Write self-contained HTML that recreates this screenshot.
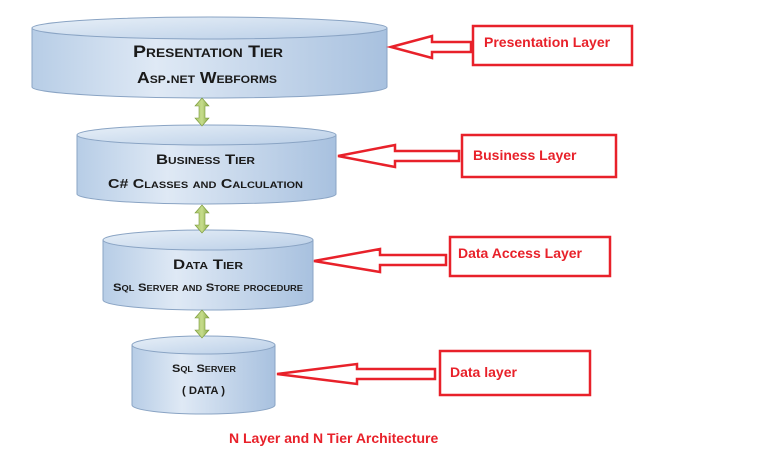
<!DOCTYPE html>
<html><head><meta charset="utf-8"><style>
html,body{margin:0;padding:0;background:#fff;width:768px;height:458px;overflow:hidden}
svg text{font-family:"Liberation Sans",sans-serif}
.t{font-weight:bold;fill:#1a1a1a;font-variant:small-caps}
.r{font-weight:bold;fill:#e8212a;font-size:14px}
</style></head><body>
<svg width="768" height="458" viewBox="0 0 768 458" xmlns="http://www.w3.org/2000/svg">
<defs>
<linearGradient id="g" x1="0" y1="0" x2="1" y2="0">
<stop offset="0" stop-color="#b7cde6"/><stop offset="0.35" stop-color="#dfe9f5"/><stop offset="1" stop-color="#a8c1df"/>
</linearGradient>
<linearGradient id="gt" x1="0" y1="0" x2="1" y2="1">
<stop offset="0" stop-color="#e8f0f8"/><stop offset="1" stop-color="#b9cee7"/>
</linearGradient>
<linearGradient id="gg" x1="0" y1="0" x2="1" y2="0">
<stop offset="0" stop-color="#a9c46a"/><stop offset="0.5" stop-color="#c5dc8a"/><stop offset="1" stop-color="#8aa84a"/>
</linearGradient>
</defs>
<g stroke="#8aa4c4" stroke-width="1">
<path d="M32,28 L32,87 A177.5,11 0 0 0 387,87 L387,28 Z" fill="url(#g)"/>
<ellipse cx="209.5" cy="28" rx="177.5" ry="11" fill="url(#gt)"/>
<path d="M77,135 L77,194 A129.5,10 0 0 0 336,194 L336,135 Z" fill="url(#g)"/>
<ellipse cx="206.5" cy="135" rx="129.5" ry="10" fill="url(#gt)"/>
<path d="M103,240 L103,300 A105,10 0 0 0 313,300 L313,240 Z" fill="url(#g)"/>
<ellipse cx="208" cy="240" rx="105" ry="10" fill="url(#gt)"/>
<path d="M132,345 L132,405 A71.5,9 0 0 0 275,405 L275,345 Z" fill="url(#g)"/>
<ellipse cx="203.5" cy="345" rx="71.5" ry="9" fill="url(#gt)"/>
</g>
<text class="t" x="133" y="57" font-size="17" textLength="150" lengthAdjust="spacingAndGlyphs">Presentation Tier</text>
<text class="t" x="137" y="83" font-size="16" textLength="140" lengthAdjust="spacingAndGlyphs">Asp.net Webforms</text>
<text class="t" x="156" y="164" font-size="14" textLength="99" lengthAdjust="spacingAndGlyphs">Business Tier</text>
<text class="t" x="108" y="188" font-size="13" textLength="195" lengthAdjust="spacingAndGlyphs">C# Classes and Calculation</text>
<text class="t" x="173" y="269" font-size="14" textLength="70" lengthAdjust="spacingAndGlyphs">Data Tier</text>
<text class="t" x="113" y="291" font-size="11" textLength="190" lengthAdjust="spacingAndGlyphs">Sql Server and Store procedure</text>
<text class="t" x="172" y="372" font-size="11" textLength="64" lengthAdjust="spacingAndGlyphs">Sql Server</text>
<text class="t" x="182" y="394" font-size="11" textLength="43" lengthAdjust="spacingAndGlyphs">( DATA )</text>
<g fill="url(#gg)" stroke="#7a9a3a" stroke-width="0.6">
<path d="M202,98 L209,106 L205,106 L205,118 L209,118 L202,126 L195,118 L199,118 L199,106 L195,106 Z"/>
<path d="M202,205 L209,213 L205,213 L205,225 L209,225 L202,233 L195,225 L199,225 L199,213 L195,213 Z"/>
<path d="M202,310 L209,318 L205,318 L205,330 L209,330 L202,338 L195,330 L199,330 L199,318 L195,318 Z"/>
</g>
<g fill="none" stroke="#e8212a" stroke-width="2.5">
<path d="M391,47 L432,36 L432,42 L471,42 L471,52 L432,52 L432,58 Z"/>
<path d="M338,156 L395,145 L395,151 L459,151 L459,161 L395,161 L395,167 Z"/>
<path d="M314,261 L380,249 L380,255 L446,255 L446,265 L380,265 L380,272 Z"/>
<path d="M277,374 L357,364 L357,369 L435,369 L435,379 L357,379 L357,384 Z"/>
<rect x="473" y="26" width="159" height="39"/>
<rect x="462" y="135" width="154" height="42"/>
<rect x="450" y="237" width="160" height="39"/>
<rect x="440" y="351" width="150" height="44"/>
</g>
<text class="r" x="484" y="47">Presentation Layer</text>
<text class="r" x="473" y="160">Business Layer</text>
<text class="r" x="458" y="258">Data Access Layer</text>
<text class="r" x="450" y="377">Data layer</text>
<text class="r" x="229" y="443" font-size="13">N Layer and N Tier Architecture</text>
</svg>
</body></html>
